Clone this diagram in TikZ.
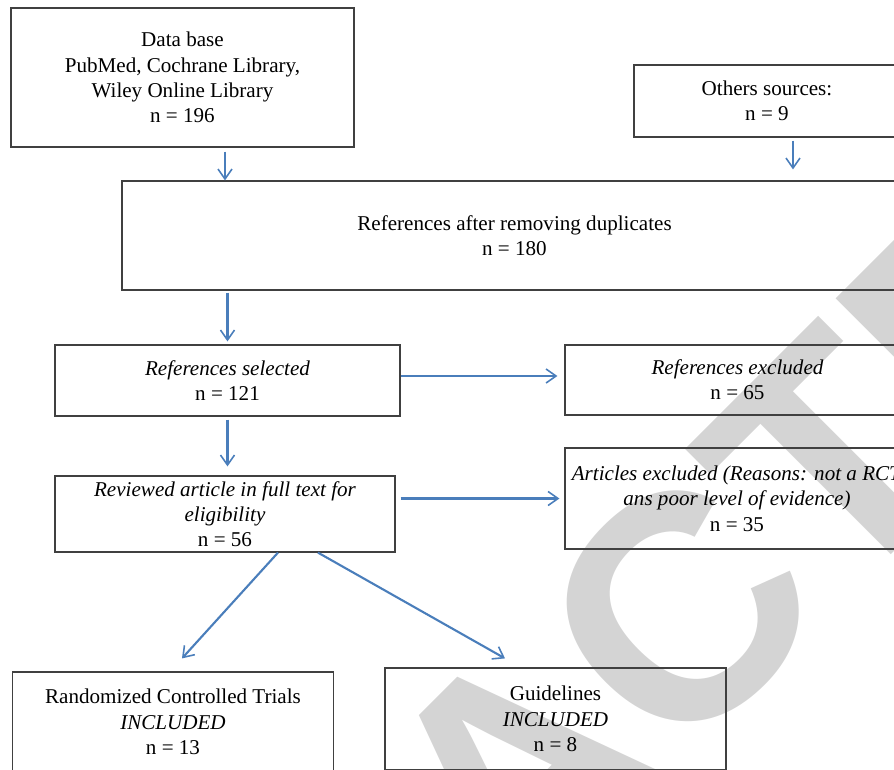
\documentclass[tikz,border=0pt]{standalone}
\usepackage{fontspec}
\setmainfont{Liberation Serif}
\newfontfamily\wmfont{Liberation Sans}
\usetikzlibrary{arrows.meta}
\definecolor{linkblue}{HTML}{4A7EBB}
\definecolor{framegray}{HTML}{404040}
\definecolor{markgray}{RGB}{212,212,212}

\begin{document}
\begin{tikzpicture}[x=0.02cm,y=-0.02cm,
  box/.style={draw=framegray,line width=0.7pt,align=center,inner sep=0pt,font=\fontsize{12}{14.4}\selectfont},
  arr/.style={draw=linkblue,line width=1.2pt,-{Straight Barb[length=2mm,width=2.8mm,line width=0.9pt]}},
  wm/.style={anchor=base,rotate=45,inner sep=0pt,text=markgray,font=\wmfont\bfseries\fontsize{182}{182}\selectfont}]
\useasboundingbox (0,0) rectangle (894,769);
\clip (0,0) rectangle (894,769);
\node[wm] (mark) at (594,852) {RETRACTED};

\node[box,minimum width=6.86cm,minimum height=2.78cm] (db) at (182.5,77.5) {Data base\\PubMed, Cochrane Library,\\Wiley Online Library\\n = 196};
\node[box,minimum width=5.32cm,minimum height=1.44cm] (other) at (767,101) {Others sources:\\n = 9};
\node[box,minimum width=15.7cm,minimum height=2.18cm] (dup) at (514.5,235.5) {References after removing duplicates\\n = 180};
\node[box,minimum width=6.9cm,minimum height=1.42cm] (sel) at (227.5,380.5) {\textit{References selected}\\n = 121};
\node[box,minimum width=6.9cm,minimum height=1.4cm] (excl) at (737.5,380) {\textit{References excluded}\\n = 65};
\node[box,minimum width=6.8cm,minimum height=1.52cm] (rev) at (225,514) {\textit{Reviewed article in full text for}\\\textit{eligibility}\\n = 56};
\node[box,minimum width=6.88cm,minimum height=2.02cm] (artexcl) at (737,498.5) {\textit{Articles excluded (Reasons: not a RCT}\\\textit{ans poor level of evidence)}\\n = 35};
\node[box,minimum width=6.42cm,minimum height=2cm] (rct) at (173,722) {Randomized Controlled Trials\\\textit{INCLUDED}\\n = 13};
\node[box,minimum width=6.82cm,minimum height=2.04cm] (guide) at (555.5,719) {Guidelines\\\textit{INCLUDED}\\n = 8};

\coordinate (dbout) at ([xshift=0.85cm,yshift=-0.08cm]db.south);
\coordinate (otherout) at ([xshift=0.52cm,yshift=-0.06cm]other.south);
\coordinate (selout) at ([yshift=0.09cm]sel.east);
\coordinate (rctin) at ([xshift=0.18cm,yshift=0.26cm]rct.north);
\coordinate (guidein) at ([xshift=-1.01cm,yshift=0.18cm]guide.north);

\draw[arr] (dbout) -- (dbout |- dup.north);
\draw[arr,shorten >=0.22cm] (otherout) -- (otherout |- dup.north);
\draw[arr,shorten <=0.04cm,shorten >=0.06cm] (dup.south -| sel.north) -- (sel.north);
\draw[arr,shorten <=0.06cm,shorten >=0.18cm] (sel.south) -- (rev.north -| sel.south);
\draw[arr,shorten >=0.14cm] (selout) -- (selout -| excl.west);
\draw[arr,shorten <=0.1cm,shorten >=0.1cm] (artexcl.west -| rev.east) -- (artexcl.west);
\draw[arr] ([xshift=1.06cm]rev.south) -- (rctin);
\draw[arr] ([xshift=1.86cm]rev.south) -- (guidein);
\end{tikzpicture}
\end{document}
